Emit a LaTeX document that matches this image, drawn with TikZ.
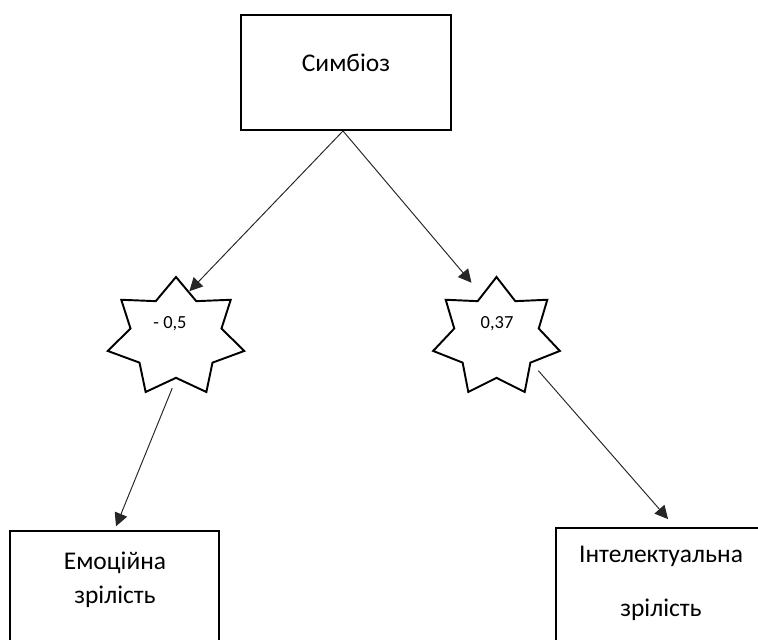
\documentclass[tikz,border=0pt]{standalone}
\usepackage{fontspec}
\setmainfont{Carlito}
\usepackage{tikz}
\usetikzlibrary{arrows.meta,shapes.geometric,positioning,calc}

\tikzset{
    box/.style={draw, line width=1.1pt, inner sep=0pt},
    starbox/.style={star, star points=7, star point ratio=1.5, draw, line width=1.1pt, minimum size=2.42cm, inner sep=0pt, transform shape},
    txt/.style={font=\fontsize{14.5}{19.4}\selectfont, align=center, inner sep=0pt},
    val/.style={font=\fontsize{10.5}{12}\selectfont, inner sep=0pt},
    arr/.style={draw=black!85, line width=0.55pt, -{Triangle[length=7.5pt,width=7.5pt]}}
}

\begin{document}
\begin{tikzpicture}
    \path[use as bounding box, clip] (0,0) rectangle (15.16,12.8);

    \node[box, minimum width=4.2cm, minimum height=2.3cm] (sym) at (6.92,11.35) {};
    \node[txt] (symtext) at (6.92,11.55) {Симбіоз};

    \coordinate (lc) at (3.52,6.05);
    \coordinate (rc) at (9.93,6.05);
    \node[starbox, xscale=1.157] (lstar) at (lc) {};
    \node[starbox, xscale=1.074] (rstar) at (rc) {};
    \node[val] (lval) at (3.40,6.32) {- 0,5};
    \node[val] (rval) at (9.94,6.32) {0,37};

    \node[box, minimum width=4.18cm, minimum height=2.68cm] (emo) at (2.29,0.84) {};
    \node[txt] (emotext) at (2.3,1.2) {Емоційна\\зрілість};
    \node[box, minimum width=4.2cm, minimum height=2.74cm] (intel) at (13.22,0.87) {};
    \node[txt, font=\fontsize{14.5}{30.8}\selectfont] (inteltext) at (13.22,1.14) {Інтелектуальна\\зрілість};

    \draw[arr] ([xshift=-0.06cm]sym.south) -- (lstar.76);
    \draw[arr, shorten >=0.31cm] ([xshift=-0.06cm]sym.south) -- (rstar.108);
    \draw[arr, shorten <=0.2cm, shorten >=0.08cm] (lstar.270) -- (emo.north);
    \draw[arr, shorten <=0.2cm, shorten >=0.21cm] (rstar.-38.6) -- ([xshift=0.28cm]intel.north);
\end{tikzpicture}
\end{document}
